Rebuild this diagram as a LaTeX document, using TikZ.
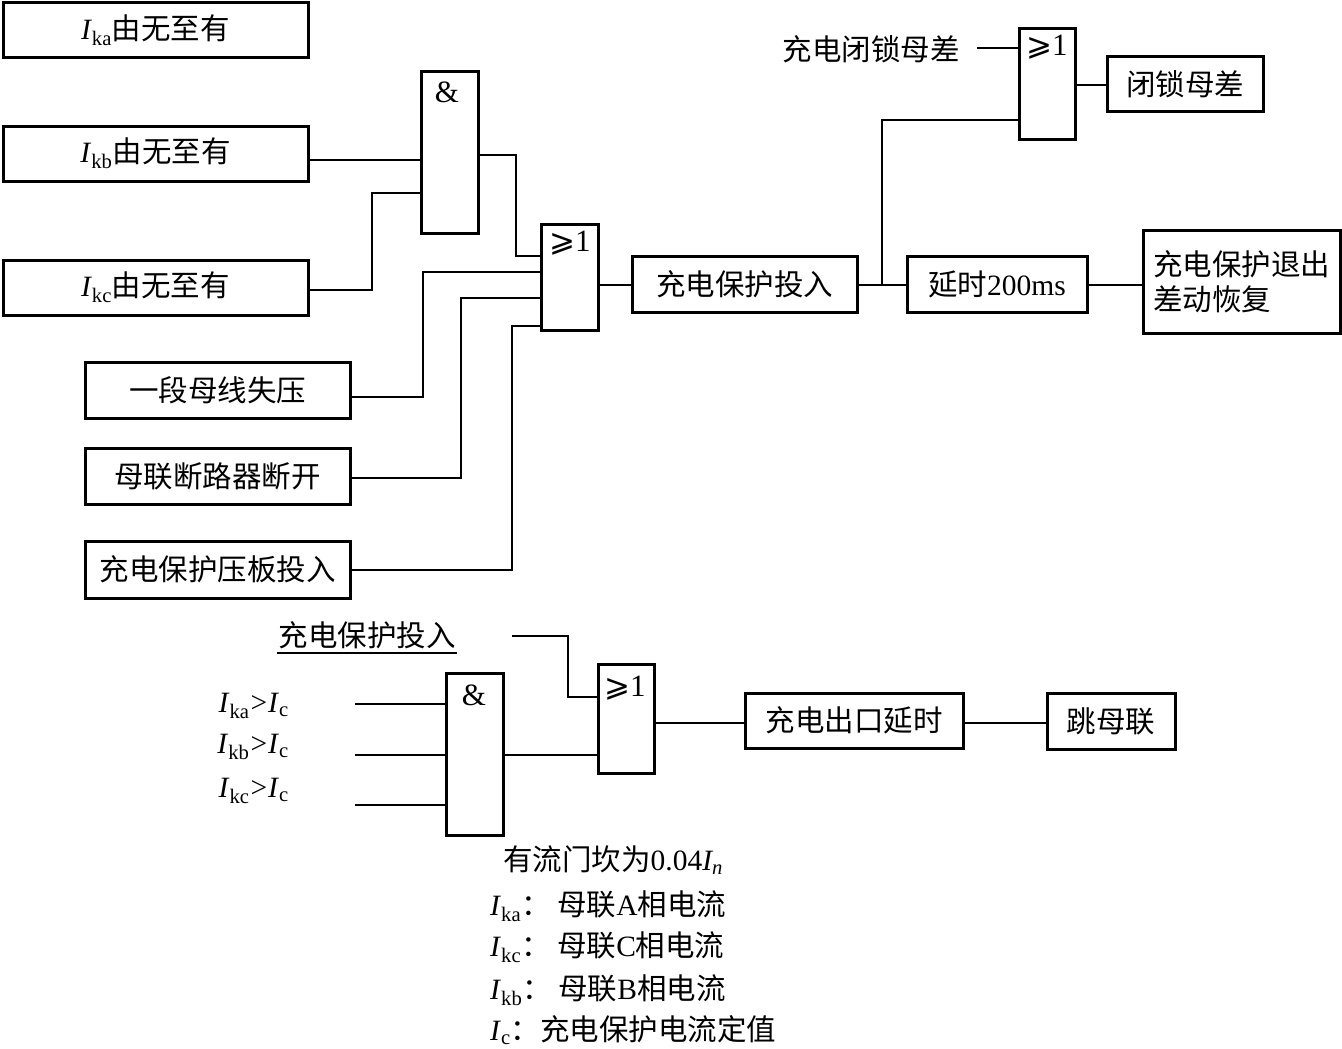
\documentclass[tikz,border=0pt]{standalone}
\usepackage{fontspec}
\setmainfont{Liberation Serif}
\newfontfamily\cjk{Noto Sans CJK SC}
\newfontfamily\dvs{DejaVu Sans}
\newcommand{\Isub}[1]{\textit{I}\textsubscript{#1}}
\newcommand{\geo}{{\dvs ⩾}1}
\tikzset{
  box/.style={draw, line width=3pt, inner sep=0pt, font=\fontsize{29.5}{35}\selectfont},
  gate/.style={draw, line width=3pt, inner sep=0pt},
  glabel/.style={inner sep=0pt, font=\fontsize{31}{32}\selectfont},
  txt/.style={inner sep=0pt, font=\fontsize{29.5}{32}\selectfont},
  wire/.style={line width=1.4pt}
}
\begin{document}
\begin{tikzpicture}[x=1pt,y=-1pt]
\useasboundingbox (0,0) rectangle (1342,1049);
% ---------- left input boxes ----------
\node[box, minimum width=305pt, minimum height=55pt] (ika) at (155.5,30.5) {\Isub{ka}{\cjk 由无至有}};
\node[box, minimum width=305pt, minimum height=55pt] (ikb) at (155.5,153.5) {\Isub{kb}{\cjk 由无至有}};
\node[box, minimum width=305pt, minimum height=55pt] (ikc) at (155.5,287.5) {\Isub{kc}{\cjk 由无至有}};
\node[box, minimum width=265pt, minimum height=56pt] (ydsy) at (217.5,390) {\cjk 一段母线失压};
\node[box, minimum width=265pt, minimum height=56pt] (mldl) at (217.5,476) {\cjk 母联断路器断开};
\node[box, minimum width=265pt, minimum height=57pt] (cdyb) at (217.5,569.5) {\cjk 充电保护压板投入};
% ---------- gates (top) ----------
\node[gate, minimum width=57pt, minimum height=161pt] (and1) at (449.5,152.5) {};
\node[glabel] (and1l) at (447,92) {\&};
\node[gate, minimum width=57pt, minimum height=106pt] (or1) at (569.5,277) {};
\node[glabel] (or1l) at (570,243) {\geo};
\node[gate, minimum width=56pt, minimum height=110pt] (or2) at (1047,84) {};
\node[glabel] (or2l) at (1047,47) {\geo};
% ---------- right boxes ----------
\node[box, minimum width=225pt, minimum height=56pt] (cdtr) at (744.5,284) {\cjk 充电保护投入};
\node[box, minimum width=180pt, minimum height=56pt] (ys) at (997,284) {{\cjk 延时}200ms};
\node[box, minimum width=197pt, minimum height=103pt, align=left] (tc) at (1241.5,281.5) {\cjk 充电保护退出\\\cjk 差动恢复};
\node[box, minimum width=156pt, minimum height=54pt] (bsmc) at (1185,84) {\cjk 闭锁母差};
\node[txt, anchor=east] (cdbs) at (960,49) {\cjk 充电闭锁母差};
% ---------- top wires ----------
\draw[wire] (ikb.east |- 0,160) -- (and1.west |- 0,160);
\draw[wire] (ikc.east |- 0,290) -- (372,290) -- (372,193) -- (and1.west |- 0,193);
\draw[wire] (and1.east |- 0,155) -- (516,155) -- (516,256) -- (or1.west |- 0,256);
\draw[wire] (ydsy.east |- 0,397) -- (423,397) -- (423,272) -- (or1.west |- 0,272);
\draw[wire] (mldl.east |- 0,478) -- (461,478) -- (461,298) -- (or1.west |- 0,298);
\draw[wire] (cdyb.east |- 0,570) -- (512,570) -- (512,326) -- (or1.west |- 0,326);
\draw[wire] (or1.east |- 0,285) -- (cdtr.west |- 0,285);
\draw[wire] (cdtr.east |- 0,285) -- (ys.west |- 0,285);
\coordinate (br) at (882,285);
\draw[wire] (br) -- (882,120) -- (or2.west |- 0,120);
\coordinate (cdbsend) at (977,48);
\draw[wire] (cdbsend) -- (or2.west |- 0,48);
\draw[wire] (or2.east |- 0,85) -- (bsmc.west |- 0,85);
\draw[wire] (ys.east |- 0,285) -- (tc.west |- 0,285);
% ---------- bottom part ----------
\node[txt] (cdtr2) at (367,635) {\cjk 充电保护投入};
\draw[line width=1.2pt] (277,653) -- (457,653);
\node[gate, minimum width=57pt, minimum height=162pt] (and2) at (474.5,754) {};
\node[glabel] (and2l) at (474,695) {\&};
\node[gate, minimum width=56pt, minimum height=109pt] (or3) at (626,718.5) {};
\node[glabel] (or3l) at (625,688) {\geo};
\node[box, minimum width=218pt, minimum height=55pt] (ck) at (854,720.5) {\cjk 充电出口延时};
\node[box, minimum width=128pt, minimum height=56pt] (tml) at (1111,721) {\cjk 跳母联};
\node[txt, anchor=east] (la) at (289,706) {\Isub{ka}\kern1pt>\kern1pt\Isub{c}};
\node[txt, anchor=east] (lb) at (289,747) {\Isub{kb}\kern1pt>\kern1pt\Isub{c}};
\node[txt, anchor=east] (lc) at (289,791) {\Isub{kc}\kern1pt>\kern1pt\Isub{c}};
\coordinate (in1) at (355,704);
\coordinate (in2) at (355,755);
\coordinate (in3) at (355,805);
\draw[wire] (in1) -- (and2.west |- in1);
\draw[wire] (in2) -- (and2.west |- in2);
\draw[wire] (in3) -- (and2.west |- in3);
\coordinate (cdin) at (512,636);
\draw[wire] (cdin) -- (568,636) -- (568,697) -- (or3.west |- 0,697);
\draw[wire] (and2.east |- 0,755) -- (or3.west |- 0,755);
\draw[wire] (or3.east |- 0,723) -- (ck.west |- 0,723);
\draw[wire] (ck.east |- 0,723) -- (tml.west |- 0,723);
% ---------- notes ----------
\node[txt, anchor=west] (n0) at (503,860) {{\cjk 有流门坎为}0.04\textit{I\textsubscript{n}}};
\node[txt, anchor=west] (n1) at (490,906) {\Isub{ka}{\cjk ： 母联}A{\cjk 相电流}};
\node[txt, anchor=west] (n2) at (490,947) {\Isub{kc}{\cjk ： 母联}C{\cjk 相电流}};
\node[txt, anchor=west] (n3) at (490,990) {\Isub{kb}{\cjk ： 母联}B{\cjk 相电流}};
\node[txt, anchor=west] (n4) at (490,1030) {\Isub{c}{\cjk ：充电保护电流定值}};
\end{tikzpicture}
\end{document}
